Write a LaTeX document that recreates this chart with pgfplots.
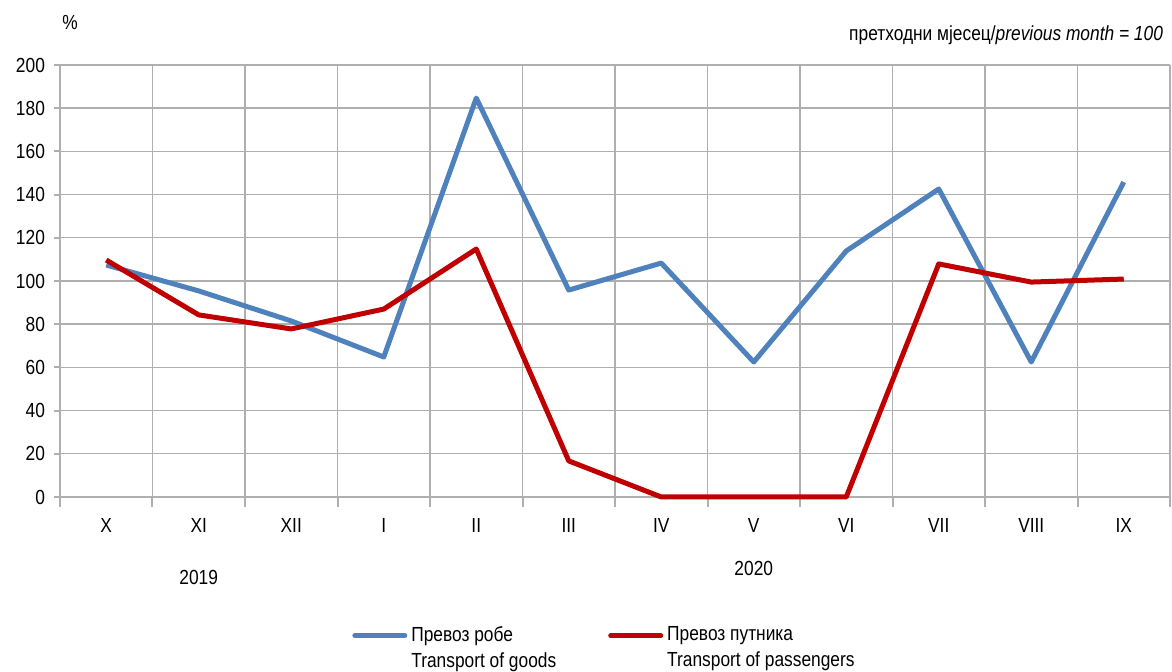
\documentclass[border=0pt]{standalone}
\usepackage{pgfplots}
\pgfplotsset{compat=1.18}
\usepackage{fontspec}
\setmainfont{Liberation Sans}[FakeStretch=0.85]
\definecolor{goods}{RGB}{79,129,189}
\definecolor{pass}{RGB}{192,0,0}
\definecolor{gridc}{RGB}{175,175,175}
\begin{document}
\begin{tikzpicture}
\useasboundingbox (-30pt,-87.5pt) rectangle (556pt,248.5pt);
\begin{axis}[
 at={(0,0)}, anchor=south west,
 scale only axis, width=555pt, height=216pt,
 xmin=-0.5, xmax=11.5, ymin=0, ymax=200,
 clip=false,
 xtick={0,...,11},
 xticklabels={X,XI,XII,I,II,III,IV,V,VI,VII,VIII,IX},
 minor xtick={-0.5,0.5,...,11.5},
 major x tick style={draw=none},
 minor x tick style={gridc, line width=1pt},
 minor tick length=5pt,
 ytick={0,20,...,200},
 major tick length=3pt,
 xminorgrids, ymajorgrids,
 grid style={gridc, line width=0.7pt},
 axis line style={gridc, line width=1pt},
 axis x line*=bottom, axis y line*=left,
 tick align=outside,
 y tick style={gridc, line width=1pt},
 tick label style={font=\fontsize{10.2}{12}\selectfont, text=black},
 /pgf/number format/assume math mode=true,
 xticklabel style={yshift=-4pt},
 yticklabel style={xshift=-1pt},
 legend style={at={(0.263,-0.35)}, anchor=west, draw=none, inner sep=0pt,
   legend columns=2, font=\fontsize{10.2}{13}\selectfont,
   nodes={align=left},
   /tikz/every even column/.append style={column sep=24pt}},
 legend cell align=left,
 legend image code/.code={\draw[#1,line cap=round] (0pt,6.3pt) -- (25pt,6.3pt);},
]
\addplot[goods, line width=2.5pt, line join=round] coordinates {
 (0,107.4) (1,95.4) (2,81.5) (3,64.8) (4,184.7) (5,95.8) (6,108.3) (7,62.5) (8,113.9) (9,142.6) (10,62.5) (11,145.8)};
\addlegendentry{Превоз робе\\Transport of goods}
\addplot[pass, line width=2.5pt, line join=round] coordinates {
 (0,109.7) (1,84.3) (2,77.8) (3,87.0) (4,114.8) (5,16.7) (6,0) (7,0) (8,0) (9,107.9) (10,99.5) (11,100.9)};
\addlegendentry{Превоз путника\\Transport of passengers}
\node[font=\fontsize{10.2}{12}\selectfont] at (axis cs:-0.39,219.9) {\%};
\node[font=\fontsize{10.2}{12}\selectfont, anchor=east] at (axis cs:11.5,213.9) {претходни мјесец/\textit{previous month = 100}};
\node[font=\fontsize{10.2}{12}\selectfont] at (axis cs:1,0) [yshift=-40pt] {2019};
\node[font=\fontsize{10.2}{12}\selectfont] at (axis cs:7,0) [yshift=-35.5pt] {2020};
\end{axis}
\end{tikzpicture}
\end{document}
